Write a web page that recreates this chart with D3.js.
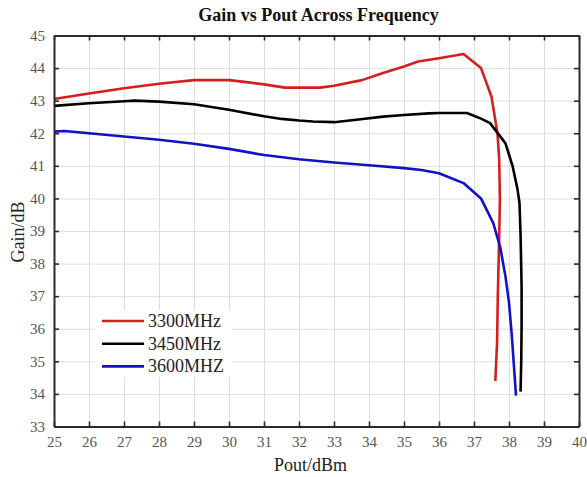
<!DOCTYPE html>
<html>
<head>
<meta charset="utf-8">
<script src="https://cdn.jsdelivr.net/npm/d3@7"></script>
<style>
  body { margin: 0; background: #fff; }
  svg { display: block; font-family: "Liberation Serif", "Times New Roman", serif; }
</style>
</head>
<body>
<svg id="chart" width="587" height="477"></svg>
<script>
// ---- data ----
const seriesNames = ["3300MHz", "3450MHz", "3600MHZ"];
const seriesColors = ["#d41f1f", "#000000", "#1212c4"];

const pout3300 = [25, 26, 27, 28, 29, 30, 30.5, 31, 31.6, 32.6, 33, 33.8, 34.4, 35, 35.4, 36, 36.7, 37.2, 37.5, 37.67, 37.72, 37.74, 37.72, 37.68, 37.66, 37.61];
const gain3300 = [43.05, 43.22, 43.38, 43.52, 43.63, 43.63, 43.57, 43.5, 43.4, 43.4, 43.46, 43.63, 43.85, 44.05, 44.2, 44.3, 44.43, 44.0, 43.12, 42.0, 41.2, 40.0, 38.8, 37.0, 35.6, 34.4];

const pout3450 = [25, 26, 27, 27.3, 28, 29, 30, 31, 31.5, 32, 32.4, 33, 33.7, 34.4, 35, 35.7, 36, 36.8, 37.2, 37.46, 37.9, 38.1, 38.24, 38.3, 38.33, 38.36, 38.36, 38.35, 38.33];
const gain3450 = [42.84, 42.92, 42.98, 43.0, 42.97, 42.89, 42.72, 42.52, 42.44, 42.39, 42.36, 42.34, 42.42, 42.51, 42.56, 42.61, 42.62, 42.62, 42.45, 42.31, 41.69, 41.0, 40.3, 39.86, 38.9, 37.3, 36.1, 35.0, 34.07];

const pout3600 = [25, 25.3, 26, 27, 28, 29, 30, 31, 32, 33, 34, 35, 35.5, 36, 36.7, 37.2, 37.55, 37.75, 37.9, 38.0, 38.08, 38.2];
const gain3600 = [42.05, 42.07, 42.0, 41.9, 41.8, 41.68, 41.52, 41.33, 41.2, 41.1, 41.02, 40.93, 40.87, 40.77, 40.47, 40.0, 39.24, 38.5, 37.6, 36.8, 35.8, 33.95];

const xTicks = [25, 26, 27, 28, 29, 30, 31, 32, 33, 34, 35, 36, 37, 38, 39, 40];
const yTicks = [33, 34, 35, 36, 37, 38, 39, 40, 41, 42, 43, 44, 45];

const titleText = "Gain vs Pout Across Frequency";
const xLabel = "Pout/dBm";
const yLabel = "Gain/dB";

// ---- layout ----
const svg = d3.select("#chart");
const m = { left: 54, top: 35.5, right: 8, bottom: 50 };
const W = 587 - m.left - m.right;   // 525
const H = 426.5 - m.top;            // ~391

const x = d3.scaleLinear().domain([25, 40]).range([0, W]);
const y = d3.scaleLinear().domain([33, 45]).range([H, 0]);

const g = svg.append("g").attr("transform", `translate(${m.left},${m.top})`);

// grid
g.append("g").attr("transform", `translate(0,${H})`)
  .call(d3.axisBottom(x).tickValues(xTicks).tickSize(-H).tickFormat(""))
  .call(s => s.select(".domain").remove())
  .call(s => s.selectAll("line").attr("stroke", "#dedede").attr("stroke-width", 1));
g.append("g")
  .call(d3.axisLeft(y).tickValues(yTicks).tickSize(-W).tickFormat(""))
  .call(s => s.select(".domain").remove())
  .call(s => s.selectAll("line").attr("stroke", "#dedede").attr("stroke-width", 1));

// lines
const series = [
  { name: seriesNames[0], color: seriesColors[0], xs: pout3300, ys: gain3300 },
  { name: seriesNames[1], color: seriesColors[1], xs: pout3450, ys: gain3450 },
  { name: seriesNames[2], color: seriesColors[2], xs: pout3600, ys: gain3600 }
];
const line = d3.line().x(d => x(d[0])).y(d => y(d[1])).curve(d3.curveLinear);
series.forEach(s => {
  g.append("path")
    .datum(s.xs.map((v, i) => [v, s.ys[i]]))
    .attr("fill", "none")
    .attr("stroke", s.color)
    .attr("stroke-width", 2.6)
    .attr("stroke-linejoin", "round")
    .attr("d", line);
});

// axes
const axisColor = "#2b2b2b";
const styleAxis = s => {
  s.select(".domain").attr("stroke", axisColor).attr("stroke-width", 2);
  s.selectAll(".tick line").attr("stroke", axisColor).attr("stroke-width", 1.6);
  s.selectAll("text").attr("fill", "#555").attr("font-size", 15)
    .attr("font-family", "'Liberation Serif', 'Times New Roman', serif");
};
g.append("g").attr("transform", `translate(0,${H})`)
  .call(d3.axisBottom(x).tickValues(xTicks).tickSizeInner(-5).tickSizeOuter(0).tickPadding(10).tickFormat(d3.format("d")))
  .call(styleAxis);
g.append("g")
  .call(d3.axisLeft(y).tickValues(yTicks).tickSizeInner(-5).tickSizeOuter(0).tickPadding(9).tickFormat(d3.format("d")))
  .call(styleAxis);
g.append("g")
  .call(d3.axisTop(x).tickValues(xTicks).tickSizeInner(-5).tickSizeOuter(0).tickFormat(""))
  .call(styleAxis);
g.append("g").attr("transform", `translate(${W},0)`)
  .call(d3.axisRight(y).tickValues(yTicks).tickSizeInner(-5).tickSizeOuter(0).tickFormat(""))
  .call(styleAxis);

// legend
const lg = g.append("g").attr("transform", `translate(${95 - m.left},${310 - m.top})`);
lg.append("rect").attr("width", 137).attr("height", 67).attr("fill", "#fff");
series.forEach((s, i) => {
  const yy = 11 + i * 22.7;
  lg.append("line").attr("x1", 7).attr("x2", 49).attr("y1", yy).attr("y2", yy)
    .attr("stroke", s.color).attr("stroke-width", 2.6);
  lg.append("text").attr("x", 53).attr("y", yy + 6)
    .attr("font-size", 18).attr("fill", "#222").text(s.name);
});

// title & labels
svg.append("text").attr("x", m.left + W / 2 + 2).attr("y", 21)
  .attr("text-anchor", "middle").attr("font-size", 18).attr("font-weight", "bold")
  .attr("fill", "#111").text(titleText);
svg.append("text").attr("x", m.left + W / 2 - 6).attr("y", 471)
  .attr("text-anchor", "middle").attr("font-size", 18).attr("fill", "#222").text(xLabel);
svg.append("text").attr("transform", `translate(24,${232}) rotate(-90)`)
  .attr("text-anchor", "middle").attr("font-size", 18).attr("fill", "#222").text(yLabel);
</script>
</body>
</html>
